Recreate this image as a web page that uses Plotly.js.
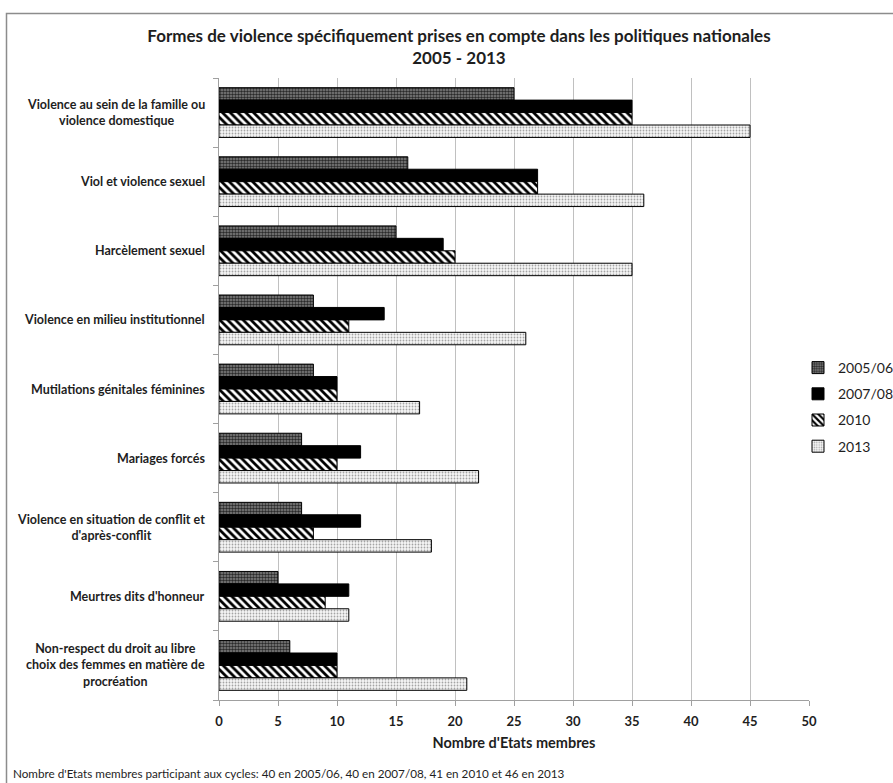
<!DOCTYPE html>
<html>
<head>
<meta charset="utf-8">
<script src="https://cdn.plot.ly/plotly-3.0.1.min.js"></script>
<style>
  html, body { margin: 0; padding: 0; background: #ffffff; }
  #chart { width: 893px; height: 783px; }
</style>
</head>
<body>
<div id="chart"></div>
<script>
// Forms of violence covered by national policies, per reporting cycle
const categories = [
  "Violence au sein de la famille ou<br>violence domestique",
  "Viol et violence sexuel",
  "Harcèlement sexuel",
  "Violence en milieu institutionnel",
  "Mutilations génitales féminines",
  "Mariages forcés",
  "Violence en situation de conflit et<br>d'après-conflit",
  "Meurtres dits d'honneur",
  "Non-respect du droit au libre<br>choix des femmes en matière de<br>procréation"
];
const cycles = ["2005/06", "2007/08", "2010", "2013"];
const values2005 = [25, 16, 15, 8, 8, 7, 7, 5, 6];
const values2007 = [35, 27, 19, 14, 10, 12, 12, 11, 10];
const values2010 = [35, 27, 20, 11, 10, 10, 8, 9, 10];
const values2013 = [45, 36, 35, 26, 17, 22, 18, 11, 21];
const xTicks = [0, 5, 10, 15, 20, 25, 30, 35, 40, 45, 50];

const titleText = "Formes de violence spécifiquement prises en compte dans les politiques nationales<br>2005 - 2013";
const xTitle = "Nombre d'Etats membres";
const note = "Nombre d'Etats membres participant aux cycles: 40 en 2005/06, 40 en 2007/08, 41 en 2010 et 46 en 2013";

const FONT = "Lato, 'Open Sans', sans-serif";
const INK = "#1e1e1e";

// Fill patterns for each cycle
const patterns = [
  { shape: ".", bgcolor: "#858585", fgcolor: "#2a2a2a", size: 3, solidity: 0.55 },
  null,
  { shape: "\\", bgcolor: "#ffffff", fgcolor: "#000000", size: 5.5, solidity: 0.5 },
  { shape: ".", bgcolor: "#f6f6f6", fgcolor: "#a4a4a4", size: 3, solidity: 0.28 }
];
const fills = ["#858585", "#000000", "#ffffff", "#f6f6f6"];
const series = [values2005, values2007, values2010, values2013];

const yIdx = categories.map((c, i) => i);

const traces = series.map((vals, k) => {
  const marker = {
    color: fills[k],
    line: { color: "#000000", width: 1 }
  };
  if (patterns[k]) marker.pattern = patterns[k];
  return {
    type: "bar",
    orientation: "h",
    name: cycles[k],
    legendgroup: cycles[k],
    x: vals,
    y: yIdx,
    marker: marker,
    hoverinfo: "x+name"
  };
});

// Plot area geometry in pixels (used for paper-relative placement of labels)
const L = 219, R = 84, T = 78, B = 83, W = 893, H = 783;
const pw = W - L - R, ph = H - T - B;
const px2x = px => (px - L) / pw;
const py2y = py => (H - B - py) / ph;

const catLabels = categories.map((c, i) => ({
  xref: "paper", yref: "y",
  x: px2x(207), y: i,
  xanchor: "right", yanchor: "middle",
  align: "center",
  text: "<b>" + c + "</b>",
  showarrow: false,
  font: { family: FONT, size: 12.5, color: INK }
}));

const layout = {
  width: W, height: H,
  margin: { l: L, r: R, t: T, b: B, pad: 0, autoexpand: false },
  paper_bgcolor: "#ffffff",
  plot_bgcolor: "#ffffff",
  font: { family: FONT, color: INK },
  title: {
    text: "<b>" + titleText + "</b>",
    xref: "container", yref: "container",
    x: 459 / W, xanchor: "center",
    y: 1 - 42 / H, yanchor: "top",
    font: { family: FONT, size: 17, color: INK }
  },
  barmode: "group",
  bargap: 0.28,
  bargroupgap: 0,
  showlegend: true,
  legend: {
    x: px2x(798), xanchor: "left",
    y: py2y(407), yanchor: "middle",
    traceorder: "grouped",
    tracegroupgap: 5,
    font: { family: FONT, size: 14, color: INK },
    bgcolor: "rgba(0,0,0,0)"
  },
  xaxis: {
    range: [0, 50],
    tickvals: xTicks,
    ticktext: xTicks.map(v => "<b>" + v + "</b>"),
    showgrid: true,
    gridcolor: "#c0c0c0",
    gridwidth: 1,
    zeroline: false,
    showline: true,
    linecolor: "#a0a0a0",
    linewidth: 1,
    ticks: "outside",
    ticklen: 5,
    tickcolor: "#a0a0a0",
    ticklabelstandoff: 4,
    tickfont: { family: FONT, size: 13, color: INK },
    title: {
      text: "<b>" + xTitle + "</b>",
      standoff: 10,
      font: { family: FONT, size: 14.5, color: INK }
    },
    fixedrange: true
  },
  yaxis: {
    type: "linear",
    range: [categories.length - 0.5, -0.5],
    tickvals: categories.map((c, i) => i - 0.5).concat([categories.length - 0.5]),
    showticklabels: false,
    showgrid: false,
    zeroline: false,
    showline: true,
    linecolor: "#a0a0a0",
    linewidth: 1,
    ticks: "outside",
    ticklen: 5,
    tickcolor: "#a0a0a0",
    fixedrange: true
  },
  annotations: catLabels.concat([{
    xref: "paper", yref: "paper",
    x: px2x(11), y: py2y(773),
    xanchor: "left", yanchor: "middle",
    text: note, showarrow: false,
    font: { family: FONT, size: 11.7, color: INK }
  }]),
  shapes: [{
    type: "rect", xref: "paper", yref: "paper",
    x0: px2x(6.5), x1: px2x(W + 20),
    y0: py2y(13.5), y1: py2y(H + 20),
    line: { color: "#8c8c8c", width: 1.5 },
    fillcolor: "rgba(0,0,0,0)",
    layer: "above"
  }]
};

Plotly.newPlot("chart", traces, layout, { displayModeBar: false, staticPlot: true });
</script>
</body>
</html>
